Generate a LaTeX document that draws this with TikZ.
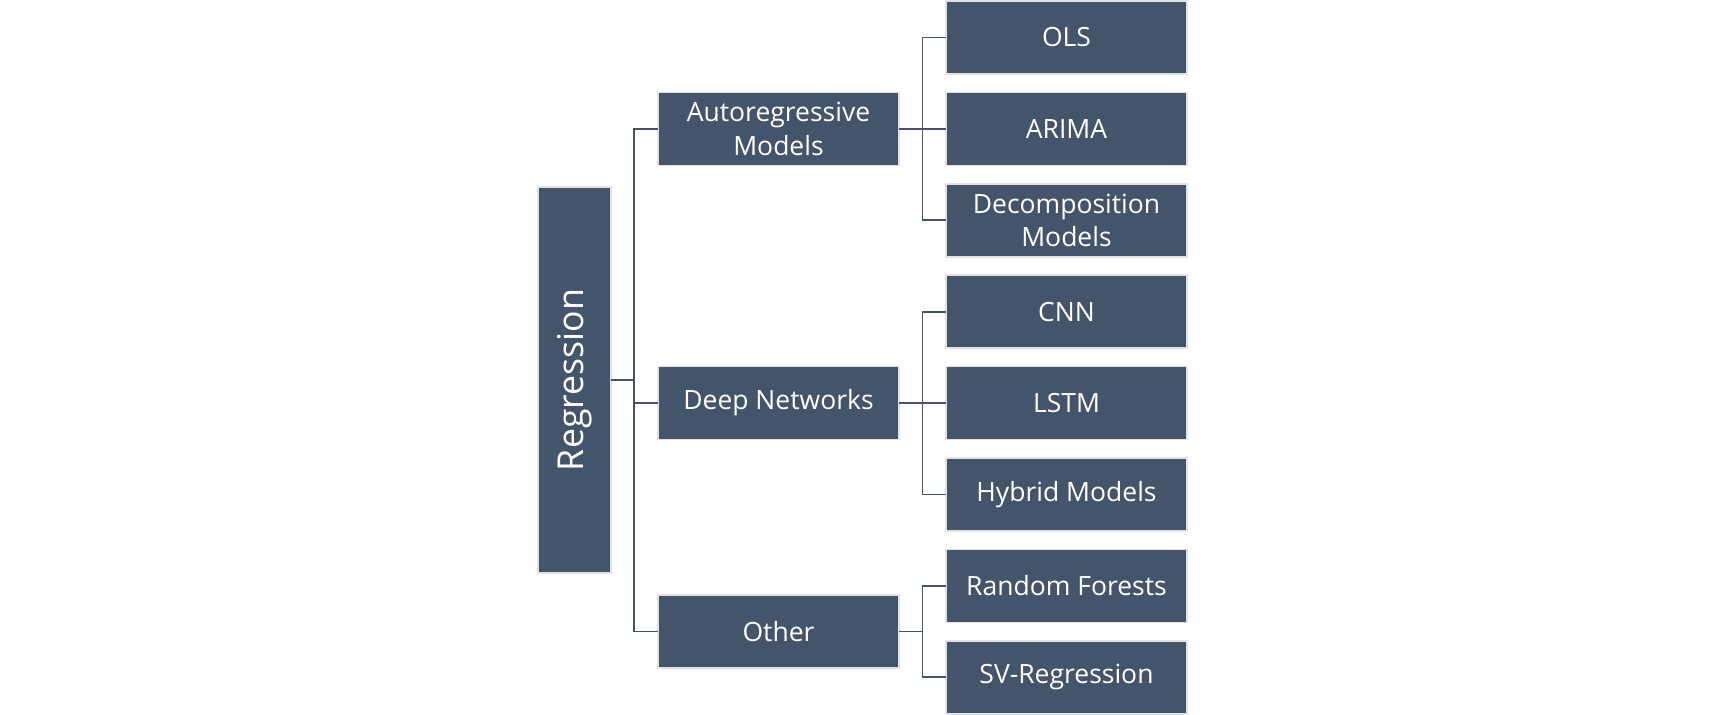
\documentclass[tikz,border=0pt]{standalone}
\usepackage{fontspec}
\setmainfont{Open Sans}
\definecolor{boxfill}{HTML}{44546A}
\definecolor{boxline}{HTML}{E2E2E2}
\begin{document}
\begin{tikzpicture}[x=1pt,y=1pt,
  box/.style={draw=boxline, line width=1.6pt, fill=boxfill, text=white,
    minimum width=241pt, minimum height=73pt, inner sep=0pt, outer sep=0pt,
    align=center, font=\fontsize{26.5}{33.5}\selectfont},
  rootbox/.style={box, minimum width=73pt, minimum height=386pt},
  conn/.style={draw=boxfill, line width=1.9pt}]
\useasboundingbox (0,0) rectangle (1725,-715);
\node[rootbox] (reg) at (574.5,-380) {};
\node[rotate=90, text=white, font=\fontsize{35.7}{43}\selectfont] (regt) at (reg.center) {Regression};
\node[box] (ar) at (778.5,-129) {Autoregressive\\Models};
\node[box] (dn) at (778.5,-403) {Deep Networks};
\node[box] (ot) at (778.5,-631.5) {Other};
\node[box] (ols) at (1066.5,-37.5) {OLS};
\node[box] (arima) at (1066.5,-128.9) {ARIMA};
\node[box] (dec) at (1066.5,-220.3) {Decomposition\\Models};
\node[box] (cnn) at (1066.5,-311.7) {CNN};
\node[box] (lstm) at (1066.5,-403.1) {LSTM};
\node[box] (hyb) at (1066.5,-494.5) {Hybrid Models};
\node[box] (rf) at (1066.5,-585.9) {Random Forests};
\node[box] (svr) at (1066.5,-677.3) {SV-Regression};
\foreach \c in {ar,dn,ot} \draw[conn] (reg.east) -- ++(23,0) |- (\c.west);
\foreach \c in {ols,arima,dec} \draw[conn] (ar.east) -- ++(23.5,0) |- (\c.west);
\foreach \c in {cnn,lstm,hyb} \draw[conn] (dn.east) -- ++(23.5,0) |- (\c.west);
\foreach \c in {rf,svr} \draw[conn] (ot.east) -- ++(23.5,0) |- (\c.west);
\end{tikzpicture}
\end{document}
